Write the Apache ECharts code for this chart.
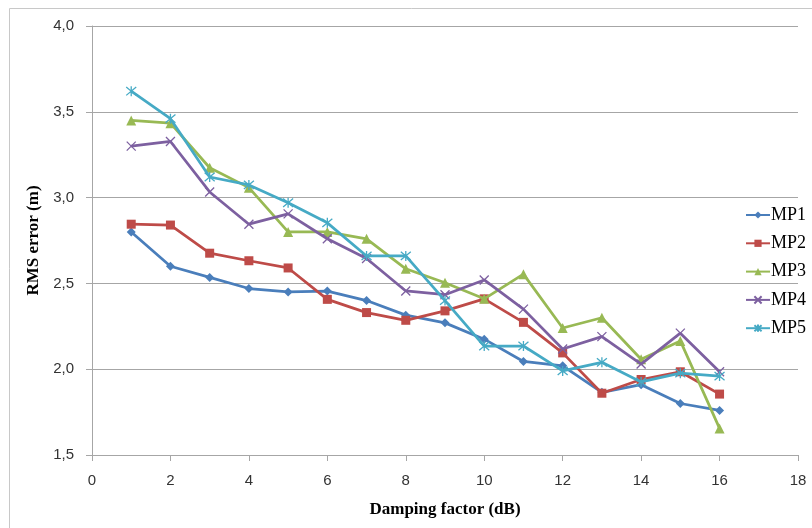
<!DOCTYPE html>
<html>
<head>
<meta charset="utf-8">
<script src="https://cdn.jsdelivr.net/npm/echarts@6/dist/echarts.min.js"></script>
<style>html,body{margin:0;padding:0;background:#fff}#c{width:812px;height:528px}</style>
</head>
<body>
<div id="c"></div>
<script>
var xValues = [1,2,3,4,5,6,7,8,9,10,11,12,13,14,15,16];
var mp1 = [2.80,2.60,2.535,2.47,2.45,2.455,2.40,2.315,2.27,2.175,2.045,2.02,1.865,1.91,1.80,1.76];
var mp2 = [2.845,2.84,2.676,2.632,2.59,2.407,2.33,2.285,2.34,2.41,2.273,2.095,1.86,1.94,1.985,1.855];
var mp3 = [3.45,3.434,3.174,3.058,2.80,2.80,2.76,2.585,2.504,2.41,2.554,2.24,2.30,2.058,2.165,1.655];
var mp4 = [3.30,3.327,3.033,2.845,2.905,2.76,2.645,2.456,2.434,2.52,2.35,2.118,2.19,2.03,2.21,1.985];
var mp5 = [3.62,3.46,3.12,3.074,2.97,2.853,2.66,2.66,2.40,2.135,2.135,1.99,2.04,1.926,1.977,1.96];
var seriesNames = ['MP1','MP2','MP3','MP4','MP5'];
var colors = ['#4a7ebb','#be4b48','#98b954','#7d60a0','#46aac5'];

function pairs(arr){ return xValues.map(function(x,i){ return [x, arr[i]]; }); }

var crossPath = 'path://M0,0L10,10M10,0L0,10';
var starPath = 'path://M0,0L10,10M10,0L0,10M5,-1L5,11';
var symbols = ['diamond','rect','triangle',crossPath,starPath];
var sizes = [9,9,10,9,10];
var dataSets = [mp1,mp2,mp3,mp4,mp5];

var series = seriesNames.map(function(n,i){
  var isPath = i >= 3;
  return {
    name: n, type: 'line', data: pairs(dataSets[i]),
    symbol: symbols[i], symbolSize: sizes[i],
    showAllSymbol: true,
    lineStyle: {color: colors[i], width: 2.75},
    itemStyle: isPath ? {color: 'rgba(0,0,0,0)', borderColor: colors[i], borderWidth: 1.3} : {color: colors[i], borderWidth: 0},
    emphasis: {disabled: true},
    z: 3 + i
  };
});

var chart = echarts.init(document.getElementById('c'), null, {renderer: 'canvas'});
chart.setOption({
  animation: false,
  backgroundColor: '#fff',
  graphic: [{type: 'rect', shape: {x: 9.5, y: 8.5, width: 900, height: 700}, style: {fill: 'none', stroke: '#c8c8c8', lineWidth: 1}, silent: true}],
  grid: {left: 92, right: 14, top: 26, bottom: 73},
  legend: {
    orient: 'vertical', left: 740, top: 201, itemGap: 10.3,
    itemWidth: 24, itemHeight: 9,
    textStyle: {fontFamily: 'Liberation Serif', fontSize: 18, color: '#000', padding: [0,0,0,-4]},
    data: seriesNames.map(function(n,i){ return {name: n}; })
  },
  xAxis: {
    type: 'value', min: 0, max: 18, interval: 2,
    name: 'Damping factor (dB)', nameLocation: 'middle', nameGap: 46,
    nameTextStyle: {fontFamily: 'Liberation Serif', fontWeight: 'bold', fontSize: 17, color: '#000'},
    axisLine: {show: true, onZero: false, lineStyle: {color: '#a6a6a6', width: 1}},
    axisTick: {show: true, length: 6, lineStyle: {color: '#a6a6a6'}},
    axisLabel: {fontFamily: 'Liberation Sans', fontSize: 15, color: '#333', margin: 18},
    splitLine: {show: false}
  },
  yAxis: {
    type: 'value', min: 1.5, max: 4.0, interval: 0.5,
    name: 'RMS error (m)', nameLocation: 'middle', nameGap: 46,
    nameTextStyle: {fontFamily: 'Liberation Serif', fontWeight: 'bold', fontSize: 17, color: '#000'},
    axisLine: {show: true, lineStyle: {color: '#a6a6a6', width: 1}},
    axisTick: {show: true, length: 6, lineStyle: {color: '#a6a6a6'}},
    axisLabel: {fontFamily: 'Liberation Sans', fontSize: 15, color: '#333', margin: 18,
      formatter: function(v){ return v.toFixed(1).replace('.', ','); }},
    splitLine: {show: true, lineStyle: {color: '#a6a6a6', width: 1}}
  },
  series: series
});
</script>
</body>
</html>
